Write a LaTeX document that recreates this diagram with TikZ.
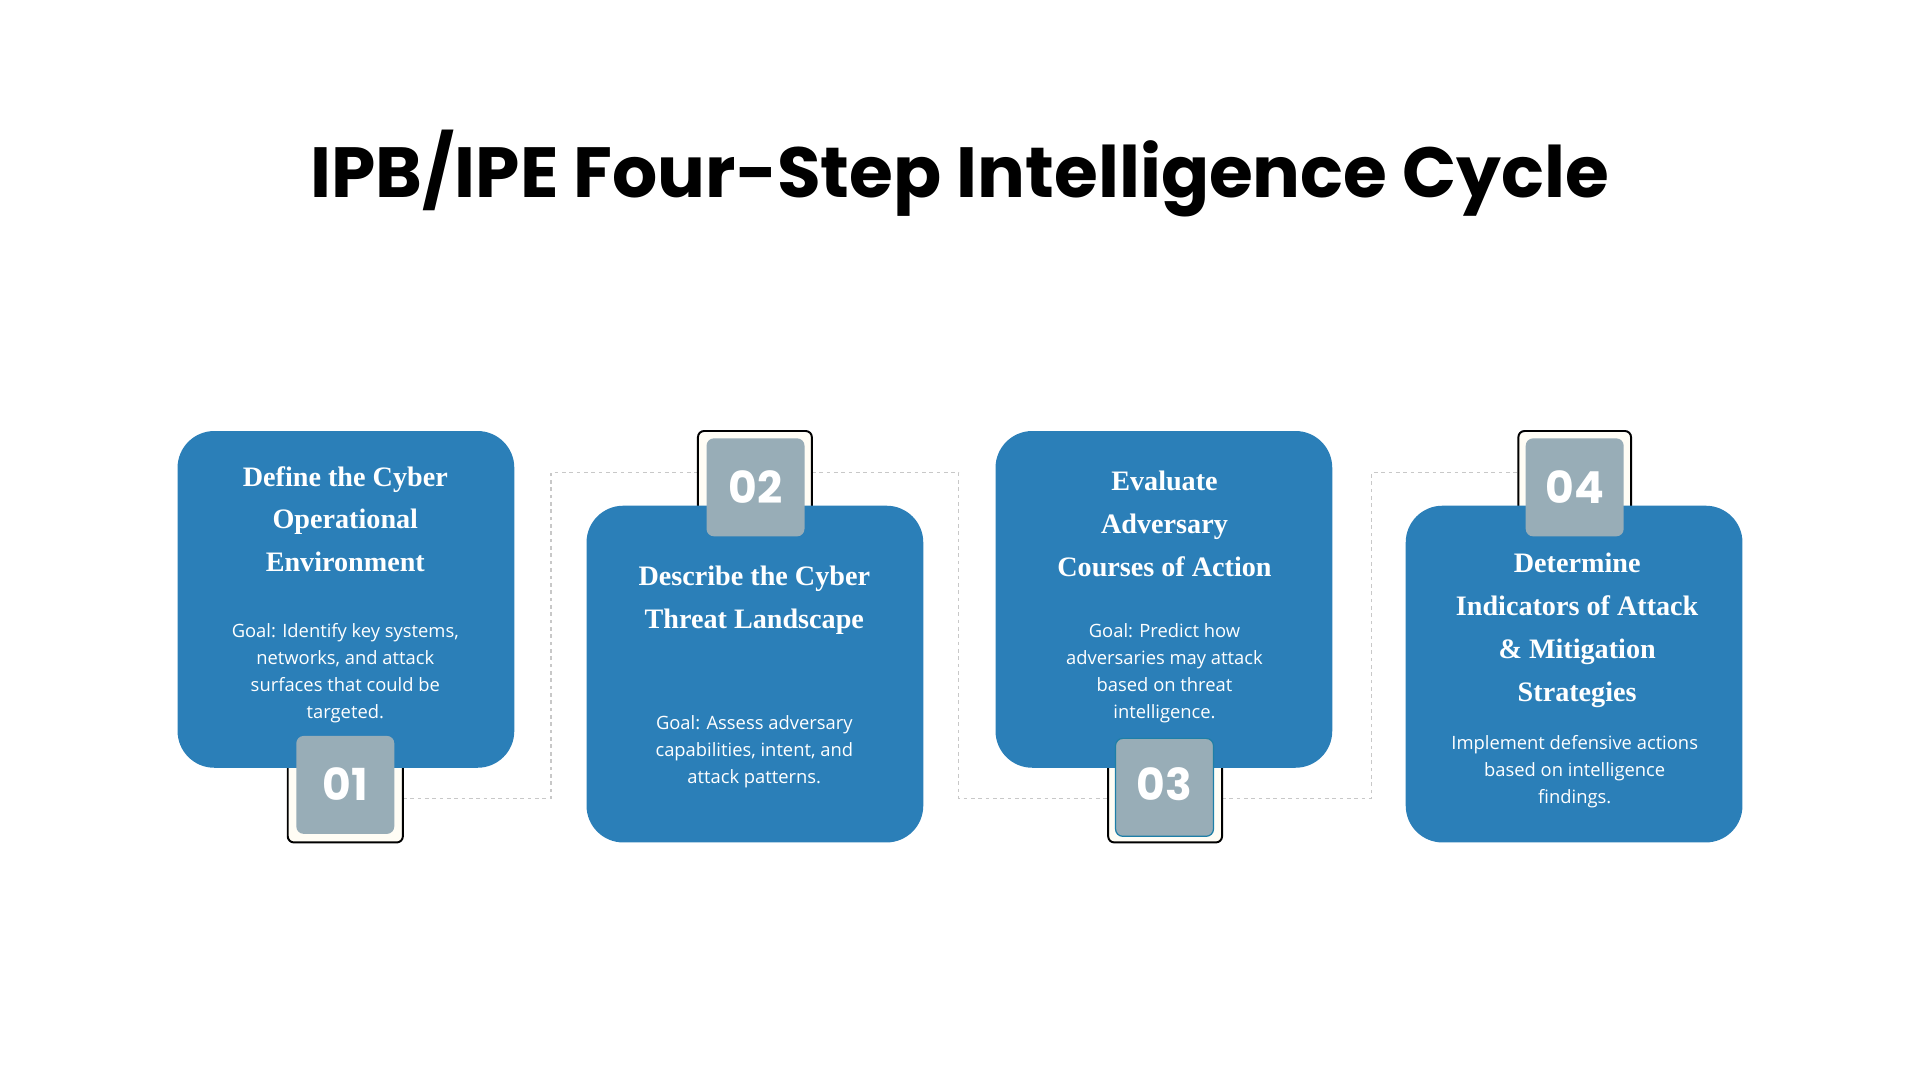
\documentclass[tikz,border=0pt]{standalone}
\usepackage{fontspec}
\setmainfont{Liberation Serif}
\newfontfamily\titlefont{Poppins}
\newfontfamily\bodyfont{Open Sans}
\definecolor{boxblue}{HTML}{2B7FB8}
\definecolor{badgegrey}{HTML}{98ADB7}
\definecolor{cream}{HTML}{FFFDF5}
\definecolor{dashgrey}{HTML}{C8C8C8}
\begin{document}
\begin{tikzpicture}[x=1pt,y=-1pt,
  card/.style={fill=boxblue,rounded corners=30pt},
  outline/.style={draw=black,line width=1.6pt,fill=cream,rounded corners=5pt},
  badge/.style={fill=badgegrey,rounded corners=6pt},
  numtxt/.style={text=white,font=\titlefont\bfseries\fontsize{36}{40}\selectfont},
  head/.style={text=white,align=center,font=\bfseries\fontsize{23}{35}\selectfont},
  body/.style={text=white,align=center,font=\bodyfont\fontsize{15}{22}\selectfont},
  conn/.style={draw=dashgrey,dashed,line width=1pt}]
\useasboundingbox (0,0) rectangle (1568,882);
\node[font=\titlefont\bfseries\fontsize{58}{64}\selectfont] (title) at (784,142) {IPB/IPE Four-Step Intelligence Cycle};
% dashed connectors
\coordinate (c1a) at (450,652); \coordinate (c1b) at (450,386);
\coordinate (c2a) at (783,386); \coordinate (c2b) at (783,652);
\coordinate (c3a) at (1120,652); \coordinate (c3b) at (1120,386);
\draw[conn] (329,652) -- (c1a) -- (c1b) -- (570,386);
\draw[conn] (663,386) -- (c2a) -- (c2b) -- (905,652);
\draw[conn] (998,652) -- (c3a) -- (c3b) -- (1240,386);
% badge outlines behind cards
\draw[outline] (235,600) rectangle (329,688);
\draw[outline] (570,352) rectangle (663,440);
\draw[outline] (905,600) rectangle (998,688);
\draw[outline] (1240,352) rectangle (1332,440);
% cards
\fill[card] (145,352) rectangle (420,627);
\fill[card] (479,413) rectangle (754,688);
\fill[card] (813,352) rectangle (1088,627);
\fill[card] (1148,413) rectangle (1423,688);
% badges
\fill[badge] (242,601) rectangle (322,681);
\fill[badge] (577,358) rectangle (657,438);
\filldraw[badge,draw=boxblue!70!teal,line width=1pt] (911,603) rectangle (991,683);
\fill[badge] (1246,358) rectangle (1326,438);
\node[numtxt] (n1) at (282,640) {01};
\node[numtxt] (n2) at (617,398) {02};
\node[numtxt] (n3) at (951,640) {03};
\node[numtxt] (n4) at (1286,398) {04};
% texts
\node[head] (h1) at (282,424) {Define the Cyber\\Operational\\Environment};
\node[body] (b1) at (282,550) {Goal: Identify key systems,\\networks, and attack\\surfaces that could be\\targeted.};
\node[head] (h2) at (616,490) {Describe the Cyber\\Threat Landscape};
\node[body] (b2) at (616,614) {Goal: Assess adversary\\capabilities, intent, and\\attack patterns.};
\node[head] (h3) at (951,428) {Evaluate\\Adversary\\Courses of Action};
\node[body] (b3) at (951,550) {Goal: Predict how\\adversaries may attack\\based on threat\\intelligence.};
\node[head] (h4) at (1288,515) {Determine\\Indicators of Attack\\\& Mitigation\\Strategies};
\node[body] (b4) at (1286,630) {Implement defensive actions\\based on intelligence\\findings.};
\end{tikzpicture}
\end{document}
